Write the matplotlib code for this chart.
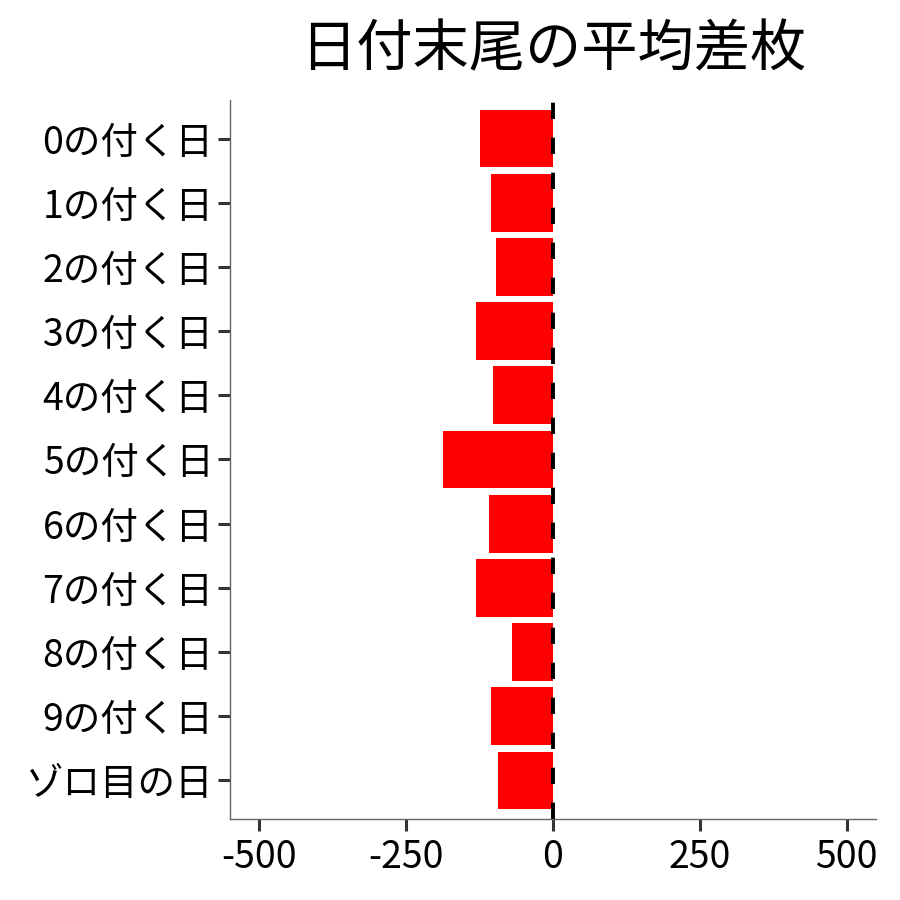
import matplotlib
matplotlib.use("Agg")
import matplotlib.pyplot as plt

plt.rcParams["font.family"] = ["Noto Sans CJK JP", "DejaVu Sans"]

categories = [
    "0の付く日", "1の付く日", "2の付く日", "3の付く日", "4の付く日",
    "5の付く日", "6の付く日", "7の付く日", "8の付く日", "9の付く日",
    "ゾロ目の日",
]
avg_diff = [-124, -105, -97, -131, -102, -187, -109, -131, -70, -105, -94]
x_ticks = [-500, -250, 0, 250, 500]
title = "日付末尾の平均差枚"


def main():
    fig = plt.figure(figsize=(9, 9), dpi=100)
    ax = fig.add_axes([0.2556, 0.09, 0.7177, 0.7989])

    ypos = list(range(len(categories)))
    ax.barh(ypos, avg_diff, height=0.9, color="#FF0000", zorder=2)
    ax.axvline(0, color="black", linewidth=2.8, linestyle=(0, (4.2, 4.8)), zorder=3)

    ax.set_xlim(-550, 550)
    ax.set_ylim(len(categories) - 0.4, -0.6)
    ax.set_xticks(x_ticks)
    ax.set_xticklabels([str(v) for v in x_ticks])
    ax.set_yticks(ypos)
    ax.set_yticklabels(categories)

    for side in ("top", "right"):
        ax.spines[side].set_visible(False)
    for side in ("left", "bottom"):
        ax.spines[side].set_color("#666666")
        ax.spines[side].set_linewidth(1.0)

    ax.tick_params(axis="both", length=8.5, width=2.2, color="#333333",
                   labelsize=27, labelcolor="black")
    ax.tick_params(axis="y", pad=3.5)
    ax.tick_params(axis="x", pad=5)

    ax.set_title(title, fontsize=40.5, pad=24)

    fig.savefig("out.png", dpi=100)
    plt.close(fig)


if __name__ == "__main__":
    main()
